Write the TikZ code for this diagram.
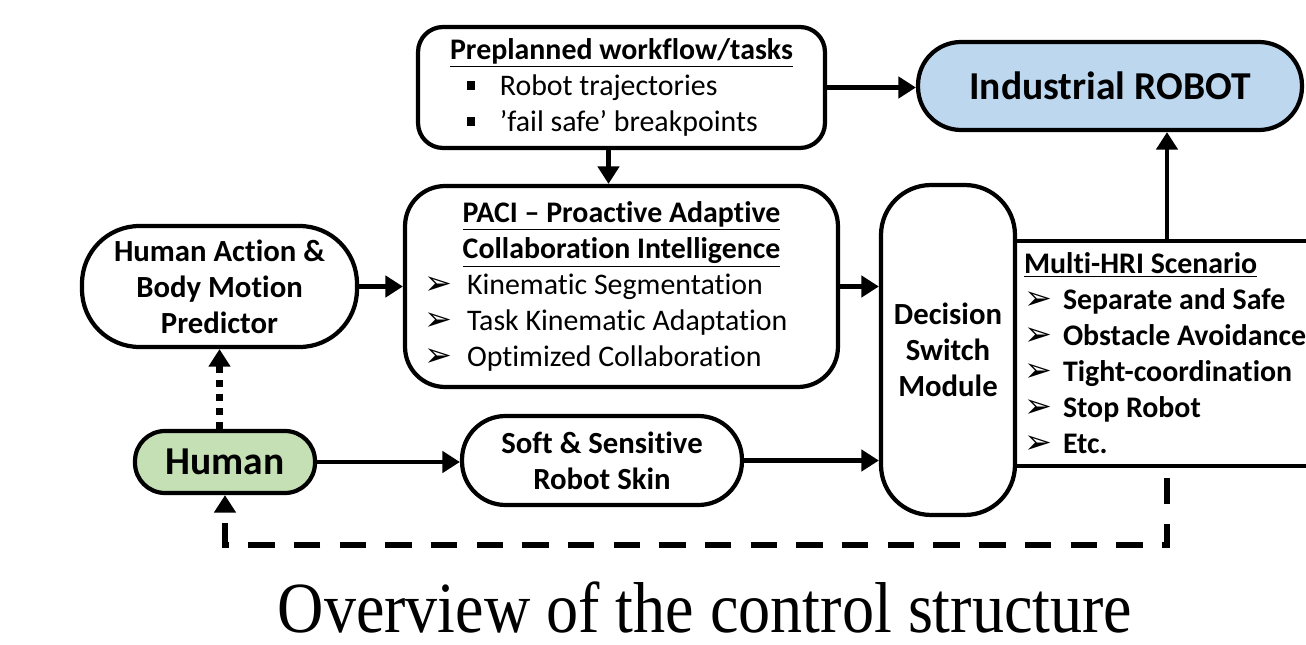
\documentclass[tikz,border=0pt]{standalone}
\usepackage{fontspec}
\setmainfont{Carlito}[Ligatures={TeX,NoCommon}]
\newfontfamily\capfont{Liberation Serif}
\newfontfamily\symfont{DejaVu Sans}
\usetikzlibrary{arrows.meta}

\definecolor{robotblue}{HTML}{BDD7EE}
\definecolor{humangreen}{HTML}{C5E0B4}

\newcommand{\hdr}[1]{\underline{#1}}
\newcommand{\sqbul}{\rule[0.2em]{0.28em}{0.28em}}
\newcommand{\arbul}{\smash{\symfont\fontsize{19}{19}\selectfont ➢}}

\tikzset{
    block/.style={draw, line width=2.4pt, align=center, inner sep=0pt,
        font=\fontsize{17}{20.5}\selectfont},
    boldblock/.style={block, font=\fontsize{17.5}{20.5}\selectfont\bfseries},
    arr/.style={-{Triangle[length=10pt,width=12pt]}, line width=2.8pt},
}

\begin{document}
\begin{tikzpicture}[x=0.02cm, y=-0.02cm]
    \clip (0,0) rectangle (1306,645);
    % Top row
    \node[block, rounded corners=0.5cm, minimum width=8.14cm, minimum height=2.42cm,
        text width=7cm, align=flush left] (plan) at (621.5,87.5)
        {\centering\textbf{\hdr{Preplanned workflow/tasks}}\par
         \raggedright\hspace*{0.4cm}\sqbul\hspace{0.5cm}Robot trajectories\\
         \hspace*{0.4cm}\sqbul\hspace{0.5cm}’fail safe’ breakpoints};
    \node[block, fill=robotblue, rounded corners=0.86cm, minimum width=7.68cm,
        minimum height=1.76cm, font=\fontsize{22.5}{26}\selectfont\bfseries] (robot)
        at (1110,86) {Industrial ROBOT};
    % Middle row
    \node[boldblock, rounded corners=1.15cm, minimum width=5.5cm, minimum height=2.42cm]
        (hap) at (219.5,286.5) {Human Action \&\\Body Motion\\Predictor};
    \node[block, rounded corners=0.8cm, minimum width=8.66cm, minimum height=4.02cm,
        text width=7.9cm, align=flush left] (paci) at (621.5,286.5)
        {\centering\textbf{\hdr{PACI – Proactive Adaptive}}\\
         \textbf{\hdr{Collaboration Intelligence}}\par
         \raggedright\arbul\hspace{0.3cm}Kinematic Segmentation\\
         \arbul\hspace{0.3cm}Task Kinematic Adaptation\\
         \arbul\hspace{0.3cm}Optimized Collaboration};
    \node[boldblock, rounded corners=1cm, minimum width=2.68cm, minimum height=6.6cm]
        (dsm) at (948,350) {Decision\\Switch\\Module};
    \node[boldblock, font=\fontsize{17}{20.5}\selectfont\bfseries, minimum width=6.5cm,
        minimum height=4.5cm, text width=6.14cm, align=flush left] (hri) at (1177.5,353.5)
        {\hdr{Multi-HRI Scenario}\\
         \arbul\hspace{0.22cm}Separate and Safe\\
         \arbul\hspace{0.22cm}Obstacle Avoidance\\
         \arbul\hspace{0.22cm}Tight-coordination\\
         \arbul\hspace{0.22cm}Stop Robot\\
         \arbul\hspace{0.22cm}Etc.};
    % Bottom row
    \node[block, fill=humangreen, rounded corners=0.6cm, minimum width=3.6cm,
        minimum height=1.24cm, font=\fontsize{22.5}{26}\selectfont\bfseries] (human)
        at (225,462) {Human};
    \node[boldblock, rounded corners=0.87cm, minimum width=5.6cm, minimum height=1.78cm]
        (skin) at (602,460.5) {Soft \& Sensitive\\Robot Skin};
    % Caption
    \node[font=\capfont\fontsize{41}{41}\selectfont, xscale=0.89, anchor=base]
        (caption) at (705,632) {Overview of the control structure};
    % Connectors
    \coordinate (tap) at (1167,0);
    \coordinate (fb) at (0,545);
    \draw[arr] (plan.east) -- (plan.east -| robot.west);
    \draw[arr] ([xshift=-0.26cm]plan.south) -- ([xshift=-0.26cm]paci.north);
    \draw[arr] (hap.east) -- (paci.west);
    \draw[arr] (paci.east) -- (paci.east -| dsm.west);
    \draw[arr] (human.east) -- (human.east -| skin.west);
    \draw[arr] (skin.east) -- (skin.east -| dsm.west);
    \draw[arr] (tap |- hri.north) -- (tap |- robot.south);
    \draw[arr, line width=4pt, dash pattern=on 4pt off 4pt] (hap.south |- human.north) -- (hap.south);
    \draw[arr, line width=3pt, dash pattern=on 15pt off 11pt] ([yshift=-0.2cm]tap |- hri.south) -- (tap |- fb) -| (human.south);
\end{tikzpicture}
\end{document}
